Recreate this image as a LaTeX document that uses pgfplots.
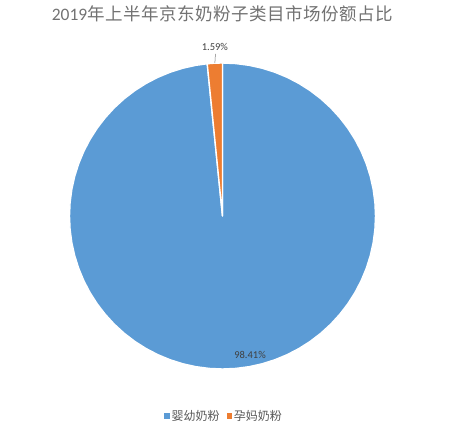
\documentclass[border=0pt]{standalone}
\usepackage{pgfplots}
\pgfplotsset{compat=1.18}
\usepackage{fontspec}
\setmainfont{Carlito}
\newfontfamily\cjk{Noto Sans CJK SC}
\newfontfamily\cjktitle[LetterSpace=3]{Noto Sans CJK SC}
\definecolor{pieblue}{HTML}{5B9BD5}
\definecolor{pieorange}{HTML}{ED7D31}
\definecolor{titlegray}{HTML}{595959}
\definecolor{labelgray}{HTML}{404040}
\begin{document}
\begin{tikzpicture}
\begin{axis}[
    at={(0,0)}, anchor=south west,
    scale only axis,
    width=469pt, height=428pt,
    xmin=-1.4542, xmax=1.6111,
    ymin=-1.3856, ymax=1.4118,
    hide axis,
    clip=false,
    legend columns=2,
    legend style={
        at={(0.478,0.028)}, anchor=center,
        draw=none, fill=none, inner sep=0pt,
        font=\fontsize{12}{13}\selectfont\color{titlegray},
        /tikz/every even column/.append style={column sep=5pt},
    },
    legend image code/.code={
        \path[#1, draw=none] (0pt,-2.6pt) rectangle (5.2pt,2.6pt);
    },
]
% shares: 婴幼奶粉 98.41 %, 孕妈奶粉 1.59 % -> boundary at 90 + 3.6*1.59 = 95.724 deg
\addplot[data cs=polar, fill=pieblue, draw=white, line width=1.4pt, line join=round]
coordinates {(0,0) (95.724,1)
 (100,1) (105,1) (110,1) (115,1) (120,1) (125,1) (130,1) (135,1) (140,1) (145,1)
 (150,1) (155,1) (160,1) (165,1) (170,1) (175,1) (180,1) (185,1) (190,1) (195,1)
 (200,1) (205,1) (210,1) (215,1) (220,1) (225,1) (230,1) (235,1) (240,1) (245,1)
 (250,1) (255,1) (260,1) (265,1) (270,1) (275,1) (280,1) (285,1) (290,1) (295,1)
 (300,1) (305,1) (310,1) (315,1) (320,1) (325,1) (330,1) (335,1) (340,1) (345,1)
 (350,1) (355,1) (360,1) (365,1) (370,1) (375,1) (380,1) (385,1) (390,1) (395,1)
 (400,1) (405,1) (410,1) (415,1) (420,1) (425,1) (430,1) (435,1) (440,1) (445,1)
 (450,1)} -- cycle;
\addlegendentry{\cjk 婴幼奶粉}
\addplot[data cs=polar, fill=pieorange, draw=white, line width=1.4pt, line join=round]
coordinates {(0,0) (90,1) (92,1) (94,1) (95.724,1)} -- cycle;
\addlegendentry{\cjk 孕妈奶粉}
% leader line of the small slice
\addplot[forget plot, data cs=polar, draw=labelgray!70, line width=0.5pt]
coordinates {(92.86,1) (92.5,1.06)};
\node[font=\fontsize{10.5}{12}\selectfont, text=labelgray, anchor=south]
    at (axis cs:-0.05,1.055) {1.59\%};
\node[font=\fontsize{10.5}{12}\selectfont, text=labelgray]
    at (axis cs:0.18,-0.908) {98.41\%};
\node[text=titlegray!85, font=\fontsize{17.5}{20}\selectfont]
    at (axis cs:0,1.32) {2019{\cjktitle 年上半年京东奶粉子类目市场份额占比}};
\end{axis}
\path (0,0) rectangle (469pt,428pt);
\end{tikzpicture}
\end{document}
